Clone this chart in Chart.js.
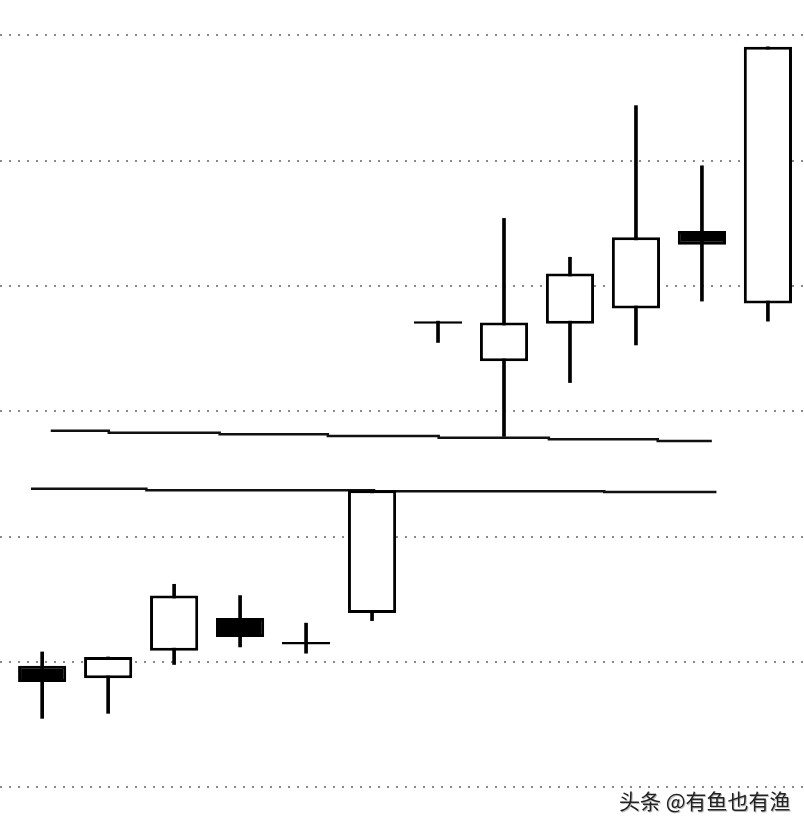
<!DOCTYPE html>
<html>
<head>
<meta charset="utf-8">
<script src="https://cdn.jsdelivr.net/npm/chart.js@4.4.1/dist/chart.umd.min.js"></script>
<style>
  body { margin: 0; background: #fff; }
  #wrap { position: relative; width: 804px; height: 828px; }
  #mark {
    position: absolute; left: 619px; top: 785px;
    font: 21px "Noto Sans CJK SC", sans-serif; color: #222;
    text-shadow: 1px 1px 0 #bbb; white-space: nowrap;
  }
</style>
</head>
<body>
<div id="wrap">
  <canvas id="chart" width="804" height="828"></canvas>
  <div id="mark">头条 @有鱼也有渔</div>
</div>
<script>
// candles
const days  = [1, 2, 3, 4, 5, 6, 7, 8, 9, 10, 11, 12];
const open  = [9.97, 9.87, 10.09, 10.35, 10.16, 10.39, 12.72, 12.40, 12.70, 12.82, 13.44, 12.86];
const close = [9.84, 10.04, 10.53, 10.20, 10.14, 11.37, 12.70, 12.71, 13.10, 13.39, 13.33, 14.91];
const high  = [10.08, 10.04, 10.62, 10.53, 10.31, 11.37, 12.72, 13.54, 13.23, 14.44, 13.96, 14.91];
const low   = [9.55, 9.59, 9.98, 10.12, 10.07, 10.33, 12.55, 11.80, 12.23, 12.53, 12.88, 12.72];

// the two hand drawn horizontal lines (stepped)
const upperX = [1.13, 2.01, 3.69, 5.33, 7.01, 8.68, 10.33, 11.15];
const upperY = [11.846, 11.830, 11.817, 11.804, 11.790, 11.777, 11.764, 11.764];
const lowerX = [0.83, 2.58, 6.03, 9.52, 11.22];
const lowerY = [11.383, 11.370, 11.362, 11.357, 11.357];

const yMin = 8.675, yMax = 15.283;
const xMin = 0.361, xMax = 12.547;

function pts(xs, ys) {
  return xs.map((x, i) => ({ x: x, y: ys[i] }));
}

let wicks = days.map((d, i) => ({ x: d, y: [low[i], high[i]] }));
let bodies = days.map((d, i) => ({
  x: d,
  y: [Math.min(open[i], close[i]), Math.max(open[i], close[i])]
}));
let fills = days.map((d, i) => (close[i] >= open[i] ? "#fff" : "#000"));

function lineSet(data) {
  return {
    type: "line",
    data: data,
    order: 2,
    stepped: true,
    borderColor: "#111",
    borderWidth: 2.5,
    pointRadius: 0,
    fill: false
  };
}

new Chart(document.getElementById("chart"), {
  type: "bar",
  data: {
    datasets: [
      lineSet(pts(upperX, upperY)),
      lineSet(pts(lowerX, lowerY)),
      {
        data: wicks,
        order: 1,
        grouped: false,
        backgroundColor: "#000",
        maxBarThickness: 3,
        categoryPercentage: 1,
        barPercentage: 1
      },
      {
        data: bodies,
        order: 0,
        grouped: false,
        backgroundColor: fills,
        borderColor: "#000",
        borderWidth: 3,
        borderSkipped: false,
        categoryPercentage: 1,
        barPercentage: 0.73
      }
    ]
  },
  options: {
    responsive: false,
    animation: false,
    events: [],
    layout: { padding: 0 },
    plugins: { legend: { display: false }, tooltip: { enabled: false } },
    scales: {
      x: {
        type: "linear",
        min: xMin,
        max: xMax,
        offset: false,
        ticks: { display: false, stepSize: 1, includeBounds: false },
        grid: { display: false, drawTicks: false, offset: false },
        border: { display: false }
      },
      y: {
        min: yMin,
        max: yMax,
        ticks: { display: false, stepSize: 1, includeBounds: false },
        grid: { color: "#8a8a8a", lineWidth: 2, drawTicks: false },
        border: { display: false, dash: [2, 7] }
      }
    }
  }
});
</script>
</body>
</html>
